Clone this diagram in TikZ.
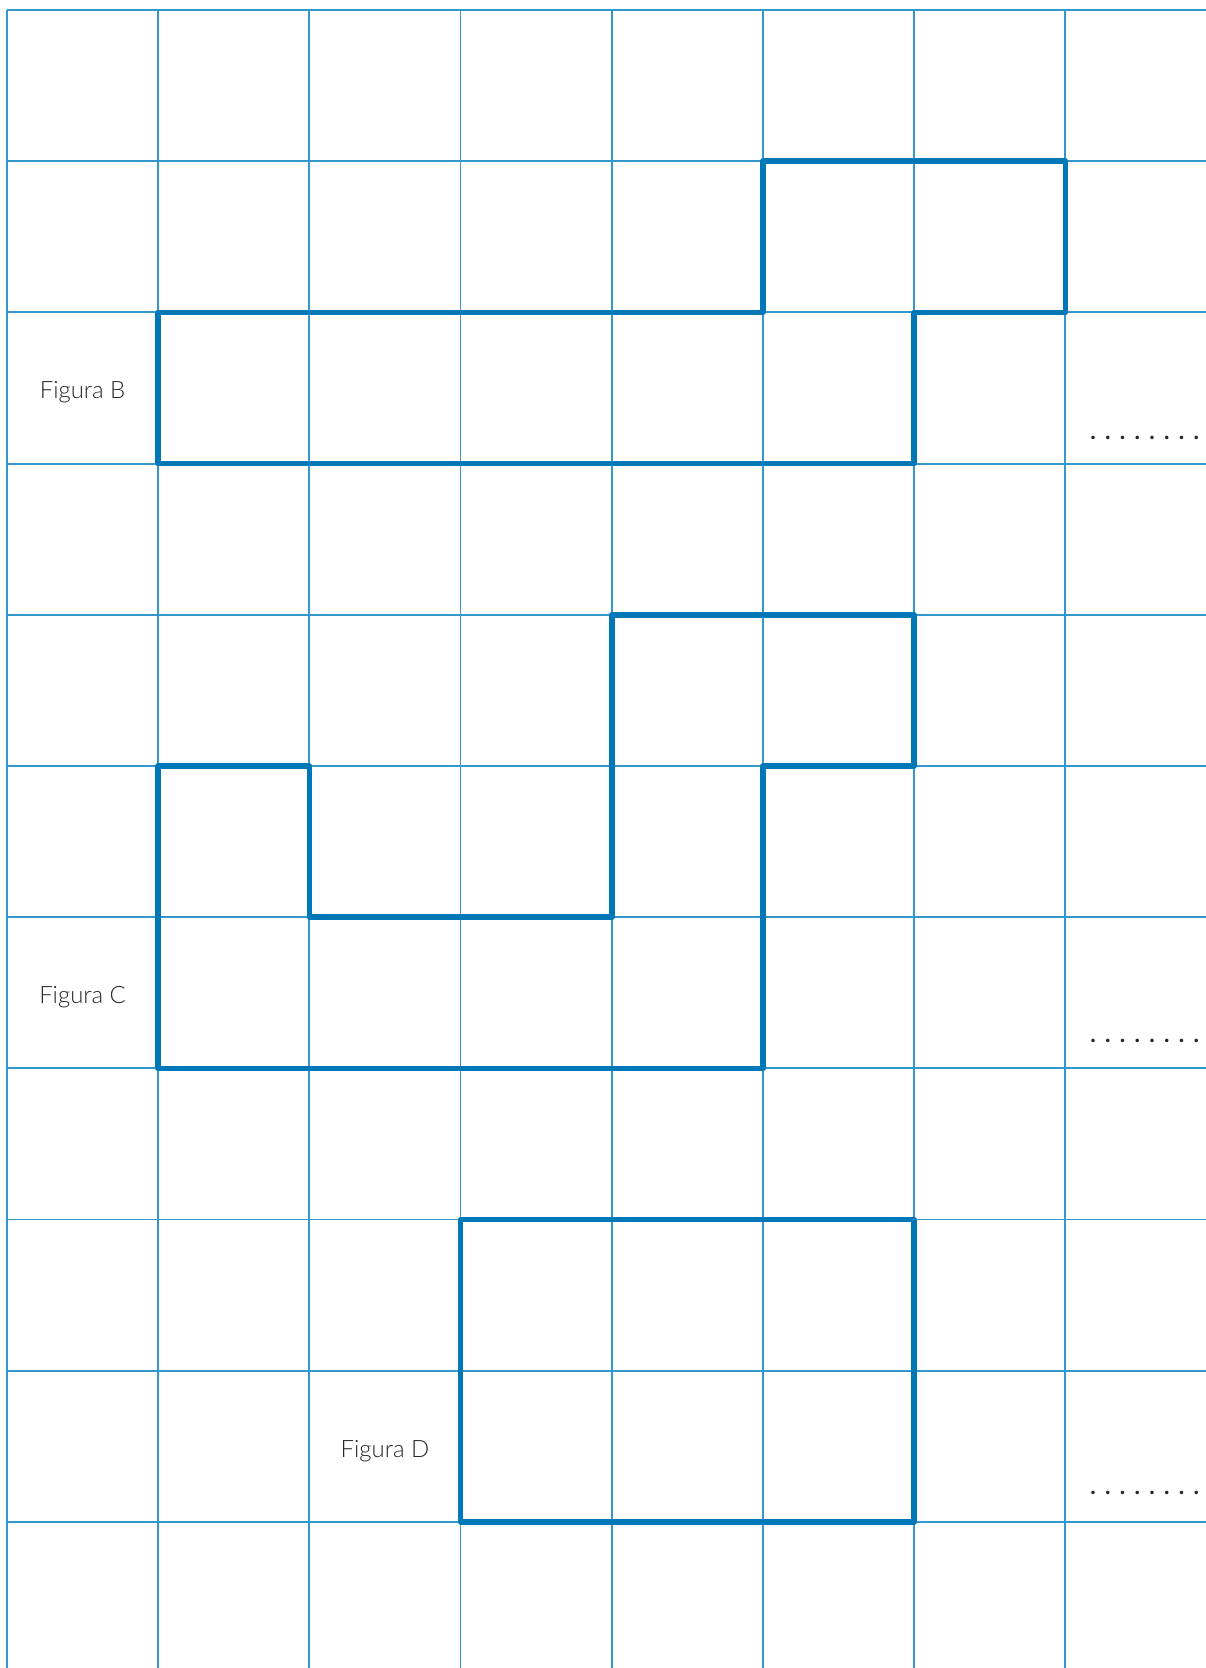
\documentclass[tikz,border=0pt]{standalone}
\usepackage{fontspec}
\setmainfont{Lato}[UprightFont=* Light]
\usepackage{tkz-euclide}
\definecolor{GridClr}{rgb}{0.2,0.6,0.8}
\definecolor{ShapeClr}{rgb}{0,0.467,0.714}
\newcommand\DotRow{.\hspace{3.3pt}.\hspace{3.3pt}.\hspace{3.3pt}.\hspace{3.3pt}.\hspace{3.3pt}.\hspace{3.3pt}.\hspace{3.3pt}.}
\tikzset{
  gridline/.style={GridClr,line width=.7pt},
  figlabel/.style={font=\fontsize{9}{11}\selectfont,text=black!85,inner sep=0pt},
  dotrow/.style={font=\fontsize{9.5}{11}\selectfont\bfseries,text=black!85,anchor=base west,inner sep=0pt}
}

\begin{document}
\begin{tikzpicture}[scale=2]
\tkzSetUpLine[line width=2.1pt,color=ShapeClr]
\useasboundingbox (-0.046,-10.966) rectangle (7.930,0.066);

% squared paper
\foreach \i in {0,...,7}
  \draw[gridline] (\i,0) -- (\i,-10.966);
\foreach \j in {0,...,10}
  \draw[gridline] (0,-\j) -- (7.930,-\j);

% Figura B
\tkzDefPoints{1/-2/B1,5/-2/B2,5/-1/B3,7/-1/B4,7/-2/B5,6/-2/B6,6/-3/B7,1/-3/B8}
\tkzDrawPolygon(B1,B2,B3,B4,B5,B6,B7,B8)

% Figura C
\tkzDefPoints{4/-4/C1,6/-4/C2,6/-5/C3,5/-5/C4,5/-7/C5,1/-7/C6,1/-5/C7,2/-5/C8,2/-6/C9,4/-6/C10}
\tkzDrawPolygon(C1,C2,C3,C4,C5,C6,C7,C8,C9,C10)

% Figura D
\tkzDefPoints{3/-8/D1,6/-8/D2,6/-10/D3,3/-10/D4}
\tkzDrawPolygon(D1,D2,D3,D4)

\node[figlabel] (labB) at (.5,-2.53) {Figura B};
\node[figlabel] (labC) at (.5,-6.53) {Figura C};
\node[figlabel] (labD) at (2.5,-9.53) {Figura D};

\node[dotrow] (dotsB) at (7.16,-2.84) {\DotRow};
\node[dotrow] (dotsC) at (7.16,-6.83) {\DotRow};
\node[dotrow] (dotsD) at (7.16,-9.82) {\DotRow};

\end{tikzpicture}
\end{document}
